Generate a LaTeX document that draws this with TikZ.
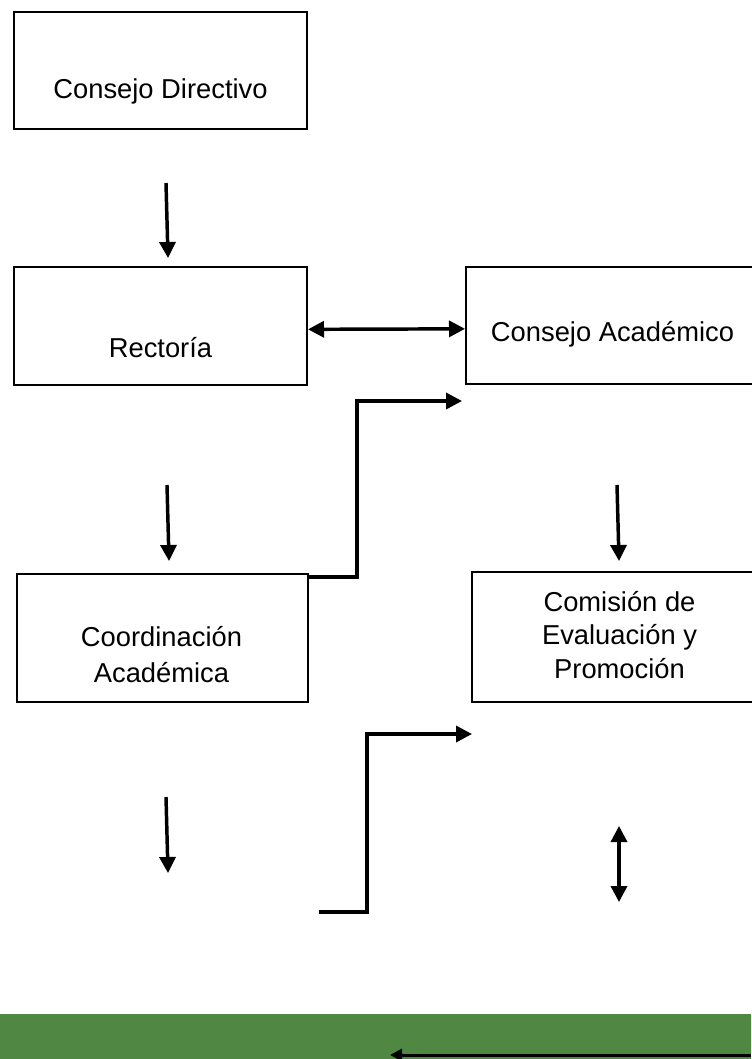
\documentclass[tikz,border=0pt]{standalone}
\usepackage{fontspec}
\setmainfont{Liberation Sans}
\usetikzlibrary{arrows.meta}
\definecolor{bargreen}{RGB}{80,135,66}

\begin{document}
\begin{tikzpicture}[>/.tip={Triangle[length=12pt,width=12pt]},x=0.75pt,y=-0.75pt,
	box/.style={draw,line width=1.5pt,shape=rectangle},
	lbl/.style={font=\fontsize{20.5}{25}\selectfont,align=center,anchor=base},
	conn/.style={line width=2.6pt}]
	\useasboundingbox (0,0) rectangle (751,1059);
	\draw (160.5,70.5) node (dir) [box,minimum width=219.75pt,minimum height=87.75pt] {};
	\node (dirtext) [lbl] at (160.5,99) {Consejo Directivo};
	\draw (160.5,326) node (rect) [box,minimum width=219.75pt,minimum height=88.5pt] {};
	\node (recttext) [lbl] at (160.5,357) {Rectoría};
	\draw (610,325.5) node (acad) [box,minimum width=216pt,minimum height=87.75pt] {};
	\node (acadtext) [lbl] at (612.5,341) {Consejo Académico};
	\draw (162.5,638) node (coord) [box,minimum width=218.25pt,minimum height=96pt] {};
	\node (coordtext) [lbl] at (161.5,682) {Coordinación\\[1.5pt]Académica};
	\draw (613,637) node (comis) [box,minimum width=211.5pt,minimum height=97.5pt] {};
	\node (comistext) [lbl] at (619.5,678) {Comisión de\\Evaluación y\\Promoción};
	
	\fill[bargreen] (0,1014) rectangle (751,1059);
	
	\coordinate (a1s) at (166,183);
	\coordinate (a1e) at (168,258);
	\coordinate (a2s) at (167,485);
	\coordinate (a2e) at (169,561);
	\coordinate (a3s) at (617,485);
	\coordinate (a3e) at (619,561);
	\coordinate (a4s) at (166,797);
	\coordinate (a4e) at (168,873);
	\coordinate (d1s) at (619,826);
	\coordinate (d1e) at (619,902);
	\coordinate (e1m) at (357,401);
	\coordinate (e1e) at (462,401);
	\coordinate (e2s) at (319,912);
	\coordinate (e2m) at (367,734);
	\coordinate (e2e) at (472,734);
	\coordinate (b1s) at (751,1055);
	\coordinate (b1e) at (390,1055);
	
	\draw[->,conn] (a1s) -- (a1e);
	\draw[<->,conn] ([yshift=-2.5pt]rect.east) -- ([yshift=-2.5pt]acad.west);
	\draw[->,conn] (a2s) -- (a2e);
	\draw[->,conn] (a3s) -- (a3e);
	\draw[->,conn] ([yshift=-3pt]coord.north east) -| (e1m) -- (e1e);
	\draw[->,conn] (a4s) -- (a4e);
	\draw[->,conn] (e2s) -| (e2m) -- (e2e);
	\draw[<->,conn] (d1s) -- (d1e);
	\draw[->,line width=2.25pt,>={Triangle[length=9pt,width=9pt]}] (b1s) -- (b1e);
\end{tikzpicture}
\end{document}
